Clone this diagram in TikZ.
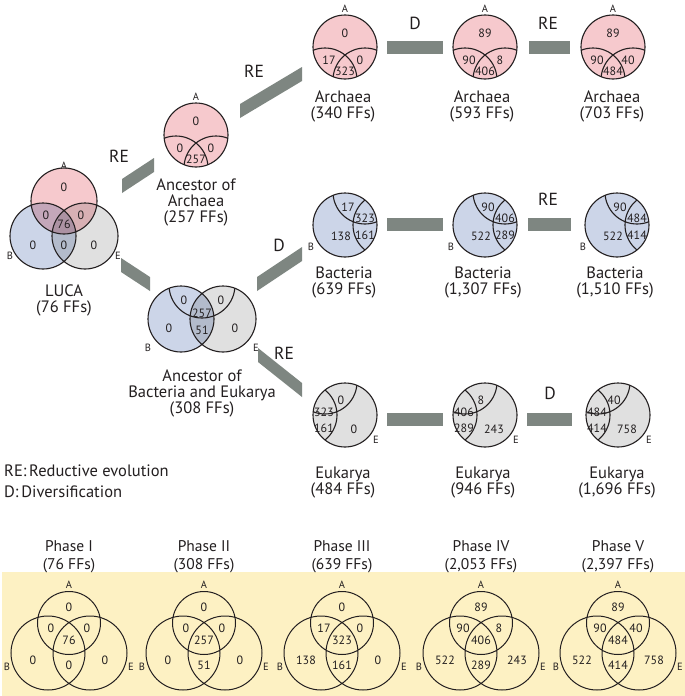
\documentclass[tikz,border=0pt]{standalone}
\usepackage{fontspec}
\setmainfont{PT Sans}
\definecolor{apink}{HTML}{F6C9CD}
\definecolor{bblue}{HTML}{CCD5E8}
\definecolor{egrey}{HTML}{E0E0E0}
\definecolor{barc}{HTML}{7E8681}
\definecolor{panel}{HTML}{FDF1C3}
\definecolor{ink}{HTML}{231F20}
\tikzset{
  vline/.style={draw=ink, line width=1.1pt},
  pline/.style={draw=ink, line width=1pt},
  num/.style={font=\fontsize{12}{13}\selectfont, text=ink, inner sep=0pt},
  lab/.style={font=\fontsize{10.5}{11}\selectfont, text=ink, inner sep=0pt},
  title/.style={font=\fontsize{16.5}{16}\selectfont, text=ink, align=center, inner sep=0pt},
  phase/.style={font=\fontsize{15.5}{18}\selectfont, text=ink, align=center, inner sep=0pt},
  tag/.style={font=\fontsize{17.5}{18}\selectfont, text=ink, inner sep=0pt},
  legend/.style={font=\fontsize{16.5}{17}\selectfont, text=ink, inner sep=0pt, anchor=west},
  barshape/.style={fill=barc},
}
% Archaea-only Venn (A circle with B and E arcs)
\newcommand\avenn[5]{%
  \begin{scope}
    \clip (0,0) circle[radius=32];
    \fill[apink] (0,0) circle[radius=32];
    \draw[vline] (-20,33) circle[radius=32] (20,33) circle[radius=32];
  \end{scope}
  \draw[vline] (0,0) circle[radius=32];
  \node[lab] (#1A) at (0,-38) {A};
  \node[num] (#1a) at (0,-14) {#2};
  \node[num] (#1ab) at (-16,13) {#3};
  \node[num] (#1ae) at (15,13) {#4};
  \node[num] (#1abe) at (0,24) {#5};
}
% Bacteria-only Venn (B circle with A and E arcs)
\newcommand\bvenn[5]{%
  \begin{scope}
    \clip (0,0) circle[radius=32];
    \fill[bblue] (0,0) circle[radius=32];
    \draw[vline] (20,-33) circle[radius=32] (40,0) circle[radius=32];
  \end{scope}
  \draw[vline] (0,0) circle[radius=32];
  \node[lab] (#1B) at (-34,22) {B};
  \node[num] (#1ab) at (3,-18) {#2};
  \node[num] (#1abe) at (20,-7) {#3};
  \node[num] (#1b) at (-4,11) {#4};
  \node[num] (#1be) at (20,10) {#5};
}
% Eukarya-only Venn (E circle with A and B arcs)
\newcommand\evenn[5]{%
  \begin{scope}
    \clip (0,0) circle[radius=32];
    \fill[egrey] (0,0) circle[radius=32];
    \draw[vline] (-20,-33) circle[radius=32] (-40,0) circle[radius=32];
  \end{scope}
  \draw[vline] (0,0) circle[radius=32];
  \node[lab] (#1E) at (31,25) {E};
  \node[num] (#1ae) at (-4,-15) {#2};
  \node[num] (#1abe) at (-21,-3) {#3};
  \node[num] (#1be) at (-21,13) {#4};
  \node[num] (#1e) at (9,14) {#5};
}
% plain three-circle Venn for the phase panel
\newcommand\pvenn[8]{%
  \draw[pline] (0,0) circle[radius=31.5] (-21,30) circle[radius=37] (21,30) circle[radius=37];
  \node[lab] (#1A) at (0,-38) {A};
  \node[lab] (#1B) at (-62,44) {B};
  \node[lab] (#1E) at (62,44) {E};
  \node[num] (#1a) at (0,-16) {#2};
  \node[num] (#1ab) at (-18,5) {#3};
  \node[num] (#1ae) at (18,5) {#4};
  \node[num] (#1abe) at (0,17) {#5};
  \node[num] (#1b) at (-36,37) {#6};
  \node[num] (#1be) at (0,42) {#7};
  \node[num] (#1e) at (36,37) {#8};
}
\begin{document}
\begin{tikzpicture}[x=1pt,y=-1pt]
\useasboundingbox (0,0) rectangle (685,696);
\fill[white] (0,0) rectangle (685,696);
\fill[panel] (2,572) rectangle (685,696);

% ---------- grey transition bars ----------
\fill[barshape] (122,179) -- (154,158) -- (154,172) -- (122,193) -- cycle;
\fill[barshape] (240,104) -- (302,67) -- (302,81) -- (240,118) -- cycle;
\fill[barshape] (257,277) -- (302,247) -- (302,261) -- (257,291) -- cycle;
\fill[barshape] (121,258) -- (150,277) -- (150,291) -- (121,272) -- cycle;
\fill[barshape] (258,348) -- (302,383) -- (302,397) -- (258,362) -- cycle;
\fill[barshape] (387,41) rectangle (443,54);
\fill[barshape] (529,41) rectangle (570,54);
\fill[barshape] (387,218) rectangle (443,231);
\fill[barshape] (528,218) rectangle (571,231);
\fill[barshape] (387,413) rectangle (443,426);
\fill[barshape] (527,413) rectangle (572,426);

% ---------- bar labels ----------
\node[tag] (re1) at (119,156) {RE};
\node[tag] (re2) at (254,71) {RE};
\node[tag] (d1) at (415,23) {D};
\node[tag] (re3) at (548,23) {RE};
\node[tag] (d2) at (279,245) {D};
\node[tag] (re4) at (548,199) {RE};
\node[tag] (re5) at (284,353) {RE};
\node[tag] (d3) at (550,393) {D};

% ---------- LUCA ----------
\begin{scope}[blend mode=multiply]
  \fill[apink] (64,201) circle[radius=33];
  \fill[bblue] (43,236) circle[radius=33];
  \fill[egrey] (85,236) circle[radius=33];
\end{scope}
\draw[vline] (64,201) circle[radius=33] (43,236) circle[radius=33] (85,236) circle[radius=33];
\node[lab] (lucaA) at (64,166) {A};
\node[lab] (lucaB) at (10,256) {B};
\node[lab] (lucaE) at (118,256) {E};
\node[num] (lucaa) at (64,187) {0};
\node[num] (lucaab) at (46,215) {0};
\node[num] (lucaae) at (81,215) {0};
\node[num] (lucaabe) at (64,224) {76};
\node[num] (lucab) at (33,245) {0};
\node[num] (lucabe) at (64,245) {0};
\node[num] (lucae) at (94,245) {0};
\node[title] (lucat) at (64,300) {LUCA\\(76 FFs)};

% ---------- Ancestor of Archaea ----------
\begin{scope}[shift={(196,135)}]
  \avenn{aa}{0}{0}{0}{257}
\end{scope}
\node[title] (aat) at (196,202) {Ancestor of\\Archaea\\(257 FFs)};

% ---------- Ancestor of Bacteria and Eukarya ----------
\begin{scope}[blend mode=multiply]
  \fill[bblue] (181,319) circle[radius=33];
  \fill[egrey] (223,319) circle[radius=33];
\end{scope}
\begin{scope}
  \clip (181,319) circle[radius=33] (223,319) circle[radius=33];
  \draw[vline] (202,285) circle[radius=33];
\end{scope}
\draw[vline] (181,319) circle[radius=33] (223,319) circle[radius=33];
\node[lab] (beB) at (148,348) {B};
\node[lab] (beE) at (256,348) {E};
\node[num] (beab) at (184,300) {0};
\node[num] (beae) at (221,300) {0};
\node[num] (beabe) at (202,313) {257};
\node[num] (bebe) at (202,330) {51};
\node[num] (beb) at (169,328) {0};
\node[num] (bee) at (235,328) {0};
\node[title] (bet) at (202,393) {Ancestor of\\Bacteria and Eukarya\\(308 FFs)};

% ---------- Archaea row ----------
\begin{scope}[shift={(345,47)}]\avenn{ar1}{0}{17}{0}{323}\end{scope}
\begin{scope}[shift={(485,47)}]\avenn{ar2}{89}{90}{8}{406}\end{scope}
\begin{scope}[shift={(613,47)}]\avenn{ar3}{89}{90}{40}{484}\end{scope}
\node[title] (ar1t) at (343,106) {Archaea\\(340 FFs)};
\node[title] (ar2t) at (482,106) {Archaea\\(593 FFs)};
\node[title] (ar3t) at (612,106) {Archaea\\(703 FFs)};

% ---------- Bacteria row ----------
\begin{scope}[shift={(345,225)}]\bvenn{ba1}{17}{323}{138}{161}\end{scope}
\begin{scope}[shift={(485,225)}]\bvenn{ba2}{90}{406}{522}{289}\end{scope}
\begin{scope}[shift={(617,225)}]\bvenn{ba3}{90}{484}{522}{414}\end{scope}
\node[title] (ba1t) at (344,282) {Bacteria\\(639 FFs)};
\node[title] (ba2t) at (483,282) {Bacteria\\(1,307 FFs)};
\node[title] (ba3t) at (615,282) {Bacteria\\(1,510 FFs)};

% ---------- Eukarya row ----------
\begin{scope}[shift={(345,415)}]\evenn{eu1}{0}{323}{161}{0}\end{scope}
\begin{scope}[shift={(485,415)}]\evenn{eu2}{8}{406}{289}{243}\end{scope}
\begin{scope}[shift={(618,415)}]\evenn{eu3}{40}{484}{414}{758}\end{scope}
\node[title] (eu1t) at (343,483) {Eukarya\\(484 FFs)};
\node[title] (eu2t) at (483,483) {Eukarya\\(946 FFs)};
\node[title] (eu3t) at (617,483) {Eukarya\\(1,696 FFs)};

% ---------- legend ----------
\node[legend] (leg1) at (4,471) {RE:\,Reductive evolution};
\node[legend] (leg2) at (4,492) {D:\,Diversification};

% ---------- phases ----------
\node[phase] (ph1) at (69,557) {Phase I\\(76 FFs)};
\node[phase] (ph2) at (204,557) {Phase II\\(308 FFs)};
\node[phase] (ph3) at (342,557) {Phase III\\(639 FFs)};
\node[phase] (ph4) at (481,557) {Phase IV\\(2,053 FFs)};
\node[phase] (ph5) at (618,557) {Phase V\\(2,397 FFs)};

\begin{scope}[shift={(69,623)}]\pvenn{p1}{0}{0}{0}{76}{0}{0}{0}\end{scope}
\begin{scope}[shift={(204,623)}]\pvenn{p2}{0}{0}{0}{257}{0}{51}{0}\end{scope}
\begin{scope}[shift={(342,623)}]\pvenn{p3}{0}{17}{0}{323}{138}{161}{0}\end{scope}
\begin{scope}[shift={(481,623)}]\pvenn{p4}{89}{90}{8}{406}{522}{289}{243}\end{scope}
\begin{scope}[shift={(618,623)}]\pvenn{p5}{89}{90}{40}{484}{522}{414}{758}\end{scope}
\end{tikzpicture}
\end{document}
